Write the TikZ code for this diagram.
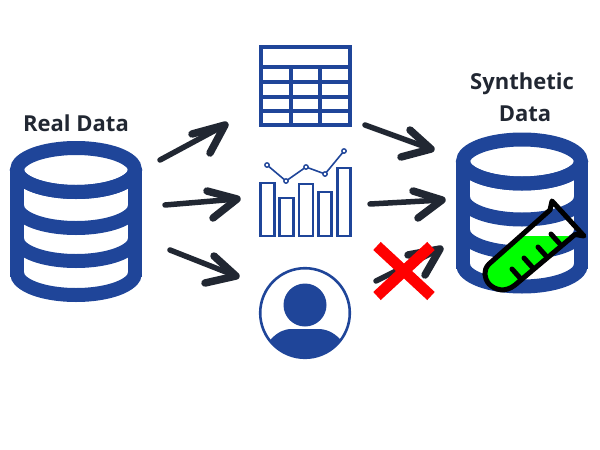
\documentclass[tikz,border=0pt]{standalone}
\usepackage{fontspec}
\setmainfont{Open Sans}
\definecolor{dbblue}{HTML}{1F4599}
\definecolor{ink}{HTML}{212732}
\tikzstyle{title} = [font=\bfseries\fontsize{22}{22}\selectfont, text=ink, inner sep=0pt]
\tikzstyle{dbline} = [draw=dbblue, line width=14pt]
\tikzstyle{iconline} = [draw=dbblue, line width=3.4pt]
\tikzstyle{barline} = [draw=dbblue, line width=2.6pt, fill=white]
\tikzstyle{flow} = [draw=ink, line width=5.5pt, line cap=round]
\tikzstyle{barb} = [draw=ink, line width=7.5pt, line cap=round, line join=round]
\tikzstyle{tubeline} = [draw=black, line width=5pt, line join=round, line cap=round]
% a database cylinder, centred on x = #1, shifted down by #2
\newcommand{\database}[2]{
	\begin{scope}[shift={(#1,#2)}]
		\draw [dbline] (0,170) ellipse (59pt and 22pt);
		\draw [dbline] (-59,170) -- (-59,277);
		\draw [dbline] (59,170) -- (59,277);
		\foreach \c in {170,206,239,273}
			\draw [dbline] (-59,\c) .. controls (-59,\c+12) and (-33,\c+22) .. (0,\c+22)
				.. controls (33,\c+22) and (59,\c+12) .. (59,\c);
	\end{scope}
}
% hand drawn arrow: tail, tip, and the ends of its two barbs
\newcommand{\brusharrow}[4]{
	\draw [flow] (#1) -- (#2);
	\draw [barb] (#3) -- (#2) -- (#4);
}
\begin{document}
\begin{tikzpicture}[x=1pt,y=-1pt]
\useasboundingbox (0,0) rectangle (600,450);
% Nodes
	\node [title] (real) at (76,123) {Real Data};
	\node [title] (synth1) at (522,84) {Synthetic};
	\node [title] (synth2) at (525,114) {Data};
	\database{76}{0}
	\database{522}{-8.5}
% Table
	\draw [iconline, line join=miter] (261,47) rectangle (350,125);
	\foreach \y in {67,82,97,111}
		\draw [iconline] (261,\y) -- (350,\y);
	\foreach \x in {291,320}
		\draw [iconline] (\x,67) -- (\x,125);
% Chart
	\foreach \x/\w/\y in {260.5/14/183, 279.5/14/198, 299/14/184, 318.5/13/192, 337.5/13/168}
		\draw [barline] (\x,\y) rectangle (\x+\w,236);
	\draw [draw=dbblue, line width=1.6pt] (267,165) -- (286,181) -- (306,167) -- (325,174) -- (344,151);
	\foreach \x/\y in {267/165, 286/181, 306/167, 325/174, 344/151}
		\draw [draw=dbblue, line width=1.4pt, fill=white] (\x,\y) circle (2.2pt);
% Person
	\draw [draw=dbblue, line width=2.6pt] (305,313) circle (44.8pt);
	\fill [dbblue] (305,305) circle (21.5pt);
	\begin{scope}
		\clip (305,313) circle (45pt);
		\fill [dbblue] (271,339) .. controls (278,332) and (284,329) .. (292,329) -- (318,329)
			.. controls (326,329) and (333,332) .. (340,339) -- (360,370) -- (250,370) -- cycle;
	\end{scope}
% Connections
	\coordinate (r1) at (160,160);
	\coordinate (t1) at (225,125);
	\coordinate (r2) at (165,205);
	\coordinate (t2) at (237,199);
	\coordinate (r3) at (170,250);
	\coordinate (t3) at (236,276);
	\coordinate (o1) at (365,125);
	\coordinate (s1) at (431,149);
	\coordinate (o2) at (370,204);
	\coordinate (s2) at (442,200);
	\coordinate (o3) at (376,281);
	\coordinate (s3) at (440,249);
	\brusharrow{r1}{t1}{192,134}{210,153}
	\brusharrow{r2}{t2}{207,191}{213,218}
	\brusharrow{r3}{t3}{214,256}{205,283}
	\brusharrow{o1}{s1}{410,130}{401,157}
	\brusharrow{o2}{s2}{413,191}{418,218}
	\brusharrow{o3}{s3}{408,255}{425,275}
% Red cross
	\coordinate (x1) at (377,246);
	\coordinate (x2) at (431,296);
	\coordinate (x3) at (431,246);
	\coordinate (x4) at (377,296);
	\draw [draw=red, line width=11pt] (x1) -- (x2);
	\draw [draw=red, line width=11pt] (x3) -- (x4);
% Test tube
	\begin{scope}
		\clip (470,236) rectangle (590,300);
		\fill [green] (552,201) -- (584,236) -- (575,234.5) -- (515,285) .. controls (505,293) and (495,290) .. (489,284)
			.. controls (484,278) and (483,270) .. (489,264) -- (550,210) -- cycle;
	\end{scope}
	\draw [tubeline] (552,201) -- (584,236) -- (575,234.5) -- (515,285) .. controls (505,293) and (495,290) .. (489,284)
		.. controls (484,278) and (483,270) .. (489,264) -- (550,210) -- cycle;
	\foreach \x/\y in {512/269, 524/258, 538/247, 551/234}
		\draw [tubeline] (\x,\y) -- (\x+8.5,\y+9.5);
\end{tikzpicture}
\end{document}
